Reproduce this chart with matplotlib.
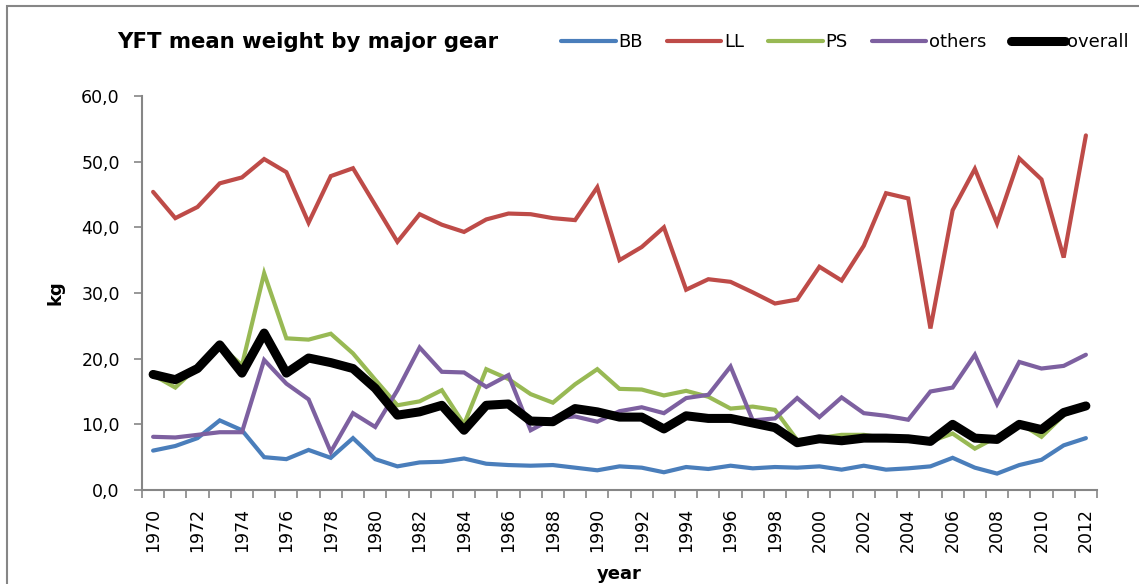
import matplotlib
matplotlib.use("Agg")
import matplotlib.pyplot as plt
from matplotlib.lines import Line2D
from matplotlib.patches import Rectangle

years = list(range(1970, 2013))

bb = [6.0, 6.7, 7.9, 10.6, 9.1, 5.0, 4.7, 6.1, 4.9, 7.9,
      4.7, 3.6, 4.2, 4.3, 4.8, 4.0, 3.8, 3.7, 3.8, 3.4,
      3.0, 3.6, 3.4, 2.7, 3.5, 3.2, 3.7, 3.3, 3.5, 3.4,
      3.6, 3.1, 3.7, 3.1, 3.3, 3.6, 4.9, 3.4, 2.5, 3.8,
      4.6, 6.8, 7.9]
ll = [45.4, 41.4, 43.1, 46.7, 47.6, 50.4, 48.4, 40.7, 47.8, 49.0,
      43.4, 37.8, 42.0, 40.4, 39.3, 41.2, 42.1, 42.0, 41.4, 41.1,
      46.1, 35.0, 37.0, 40.0, 30.5, 32.1, 31.7, 30.1, 28.4, 29.0,
      34.0, 31.9, 37.2, 45.2, 44.4, 24.6, 42.6, 48.9, 40.6, 50.5,
      47.3, 35.4, 54.0]
ps = [17.5, 15.6, 18.8, 22.0, 19.0, 33.0, 23.1, 22.9, 23.8, 20.8,
      16.8, 12.9, 13.5, 15.2, 10.0, 18.4, 16.9, 14.6, 13.3, 16.1,
      18.4, 15.4, 15.3, 14.4, 15.1, 14.2, 12.4, 12.7, 12.2, 7.6,
      7.9, 8.4, 8.4, 7.9, 7.9, 7.4, 8.6, 6.3, 8.1, 10.2,
      8.1, 11.4, 12.8]
others = [8.1, 8.0, 8.4, 8.8, 8.8, 19.8, 16.2, 13.8, 5.8, 11.7,
          9.6, 15.2, 21.7, 18.0, 17.9, 15.7, 17.5, 9.1, 10.9, 11.2,
          10.4, 12.0, 12.6, 11.7, 14.0, 14.5, 18.8, 10.6, 10.9, 14.0,
          11.1, 14.1, 11.7, 11.3, 10.7, 15.0, 15.6, 20.6, 13.1, 19.5,
          18.5, 18.9, 20.6]
overall = [17.6, 16.8, 18.5, 22.1, 17.8, 23.9, 17.8, 20.1, 19.4, 18.5,
           15.5, 11.4, 11.9, 12.9, 9.1, 12.9, 13.1, 10.5, 10.4, 12.4,
           11.9, 11.1, 11.1, 9.3, 11.3, 10.9, 10.9, 10.2, 9.5, 7.2,
           7.8, 7.5, 7.9, 7.9, 7.8, 7.4, 10.0, 7.9, 7.7, 10.0,
           9.2, 11.8, 12.8]

series_names = ["BB", "LL", "PS", "others", "overall"]
series_vals = [bb, ll, ps, others, overall]
colors = ["#4A7EBB", "#BE4B48", "#98B954", "#7D60A0", "#000000"]
widths = [3.0, 3.0, 3.0, 3.0, 6.5]

grey = "#868686"
plt.rcParams['font.family'] = ['DejaVu Sans']

fig = plt.figure(figsize=(11.39, 5.84), dpi=100)
ax = fig.add_axes([142/1139, 1-490/584, (1097-142)/1139, (490-96)/584])

x = list(range(len(years)))
for name, vals, c, w in zip(series_names, series_vals, colors, widths):
    ax.plot(x, vals, color=c, lw=w, solid_joinstyle='miter' if name != 'overall' else 'round',
            solid_capstyle='round', label=name)

ax.set_xlim(-0.5, len(years) - 0.5)
ax.set_ylim(0, 60)
ax.set_yticks(range(0, 61, 10))
ax.set_yticklabels([f"{v},0" for v in range(0, 61, 10)], fontsize=12.5)
ax.set_xticks([i - 0.5 for i in range(len(years) + 1)], minor=True)
ax.set_xticks(x[::2])
ax.set_xticklabels([str(y) for y in years[::2]], rotation=90, fontsize=12.5)
ax.tick_params(axis='x', which='major', length=0, pad=13)
ax.tick_params(axis='x', which='minor', length=6, color=grey, width=1.2, direction='out')
ax.tick_params(axis='y', which='major', length=6, color=grey, width=1.2, direction='out', pad=10)

for s in ['top', 'right']:
    ax.spines[s].set_visible(False)
for s in ['left', 'bottom']:
    ax.spines[s].set_color(grey)
    ax.spines[s].set_linewidth(1.5)

ax.set_ylabel("kg", fontsize=13, fontweight='bold', labelpad=12)
ax.set_xlabel("year", fontsize=13, fontweight='bold', labelpad=9)

fig.text(117/1139, 1-42/584, "YFT mean weight by major gear", fontsize=15.3,
         fontweight='bold', va='center', ha='left')

leg_handles = [Line2D([0], [0], color=c, lw=w, solid_capstyle='round') for c, w in zip(colors, widths)]
fig.legend(leg_handles, series_names, loc='center right', bbox_to_anchor=(1129/1139, 1-42/584),
           ncol=5, frameon=False, fontsize=13, handlelength=3.0, handletextpad=0.15,
           columnspacing=1.35, borderaxespad=0, borderpad=0)

fig.patches.append(Rectangle((7/1139, -0.05), 1.2, 1 - 6/584 + 0.05, transform=fig.transFigure,
                             fill=False, edgecolor=grey, lw=1.5))

fig.savefig("out.png", dpi=100)
